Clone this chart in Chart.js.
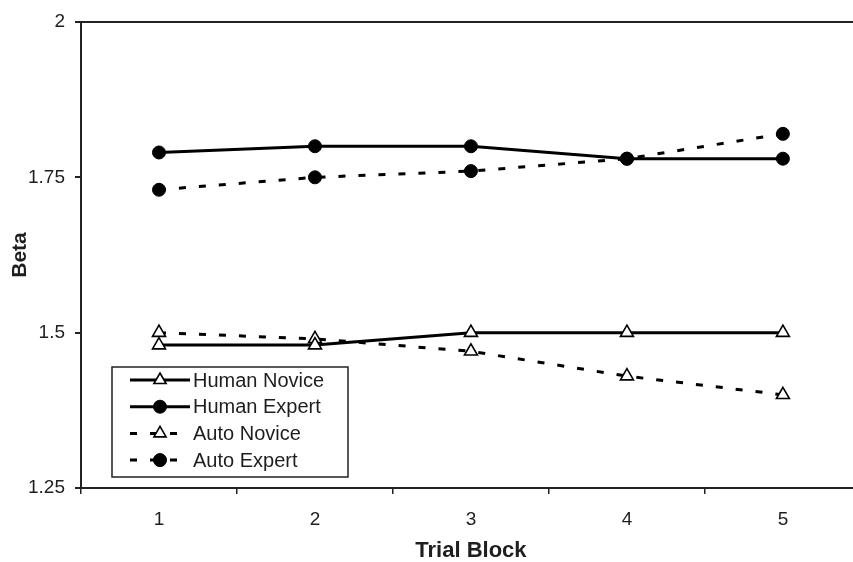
<!DOCTYPE html>
<html>
<head>
<meta charset="utf-8">
<script src="https://cdn.jsdelivr.net/npm/chart.js@4"></script>
<style>
  html, body { margin: 0; padding: 0; background: #fff; }
  #wrap { width: 853px; height: 562px; overflow: hidden; position: relative; }
  #inner { width: 870px; height: 562px; position: absolute; left: 0; top: 0; }
</style>
</head>
<body>
<div id="wrap"><div id="inner"><canvas id="chart"></canvas></div></div>
<script>
// ── Data ──────────────────────────────────────────────────────────────────────
const trialBlocks  = ["1", "2", "3", "4", "5"];
const humanNovice  = [1.48, 1.48, 1.50, 1.50, 1.50];
const humanExpert  = [1.79, 1.80, 1.80, 1.78, 1.78];
const autoNovice   = [1.50, 1.49, 1.47, 1.43, 1.40];
const autoExpert   = [1.73, 1.75, 1.76, 1.78, 1.82];
const betaTicks    = [1.25, 1.5, 1.75, 2];

const FONT = "'Liberation Sans', Arial, sans-serif";
const INK  = "#1e1e1e";
const DASH = [7, 13];

function series(label, data, dashed, pointStyle) {
  const tri = pointStyle === "triangle";
  return {
    label,
    data,
    borderColor:          "#000",
    borderWidth:          3,
    borderDash:           dashed ? DASH : [],
    pointStyle,
    pointRadius:          tri ? 7.5 : 6.5,
    pointBackgroundColor: tri ? "#fff" : "#000",
    pointBorderColor:     "#000",
    pointBorderWidth:     tri ? 1.6 : 1,
    tension:              0,
  };
}

// Legend box drawn inside the plot, like the original figure
const boxLegend = {
  id: "boxLegend",
  afterDraw(chart) {
    const ctx = chart.ctx;
    const x0 = 112, y0 = 367, w = 236, h = 110;
    ctx.save();
    ctx.fillStyle = "#fff";
    ctx.fillRect(x0, y0, w, h);
    ctx.strokeStyle = "#222";
    ctx.lineWidth = 1.5;
    ctx.strokeRect(x0, y0, w, h);

    chart.data.datasets.forEach((ds, i) => {
      const y = 380 + i * 26.7;
      ctx.setLineDash(ds.borderDash);
      ctx.lineDashOffset = 0;
      ctx.lineWidth = 3;
      ctx.strokeStyle = "#000";
      ctx.beginPath();
      ctx.moveTo(130, y);
      ctx.lineTo(190, y);
      ctx.stroke();
      ctx.setLineDash([]);
      ctx.fillStyle = ds.pointBackgroundColor;
      ctx.strokeStyle = "#000";
      ctx.lineWidth = ds.pointBorderWidth;
      Chart.helpers.drawPoint(ctx, {
        pointStyle: ds.pointStyle,
        radius: ds.pointStyle === "triangle" ? 7 : 6.5,
        rotation: 0,
        borderWidth: ds.pointBorderWidth,
      }, 160, y);
      ctx.fillStyle = INK;
      ctx.font = "20px " + FONT;
      ctx.textAlign = "left";
      ctx.textBaseline = "middle";
      ctx.fillText(ds.label, 193, y + 1);
    });
    ctx.restore();
  },
};

new Chart(document.getElementById("chart"), {
  type: "line",
  data: {
    labels: trialBlocks,
    datasets: [
      series("Human Novice", humanNovice, false, "triangle"),
      series("Human Expert", humanExpert, false, "circle"),
      series("Auto Novice",  autoNovice,  true,  "triangle"),
      series("Auto Expert",  autoExpert,  true,  "circle"),
    ],
  },
  options: {
    responsive: true,
    maintainAspectRatio: false,
    animation: false,
    layout: { padding: { top: 22, right: 9, left: 0, bottom: 0 } },
    plugins: {
      legend:  { display: false },
      tooltip: { enabled: false },
    },
    scales: {
      x: {
        type: "category",
        offset: true,
        border: { color: "#222", width: 2 },
        grid: {
          offset: true,
          drawOnChartArea: false,
          tickLength: 6,
          tickColor: "#222",
          lineWidth: 1.5,
        },
        ticks: { color: INK, font: { family: FONT, size: 19 }, padding: 14 },
        title: {
          display: true,
          text: "Trial Block",
          color: INK,
          font: { family: FONT, size: 22, weight: "bold", lineHeight: 1 },
          padding: { top: 4, bottom: 0 },
        },
        afterFit: (s) => { s.height = 74; },
      },
      y: {
        min: 1.25,
        max: 2,
        afterBuildTicks: (s) => { s.ticks = betaTicks.map((v) => ({ value: v })); },
        border: { color: "#222", width: 2 },
        grid: {
          drawOnChartArea: true,
          color: (c) => (c.tick && c.tick.value === 2 ? "#222" : "rgba(0,0,0,0)"),
          lineWidth: 2,
          tickLength: 6,
          tickColor: "#222",
        },
        ticks: {
          color: INK,
          font: { family: FONT, size: 19 },
          padding: 10,
          callback: (v) => String(v),
        },
        title: {
          display: true,
          text: "Beta",
          color: INK,
          font: { family: FONT, size: 21, weight: "bold", lineHeight: 1 },
          padding: { top: 10, bottom: 0 },
        },
        afterFit: (s) => { s.width = 81; },
      },
    },
  },
  plugins: [boxLegend],
});
</script>
</body>
</html>
